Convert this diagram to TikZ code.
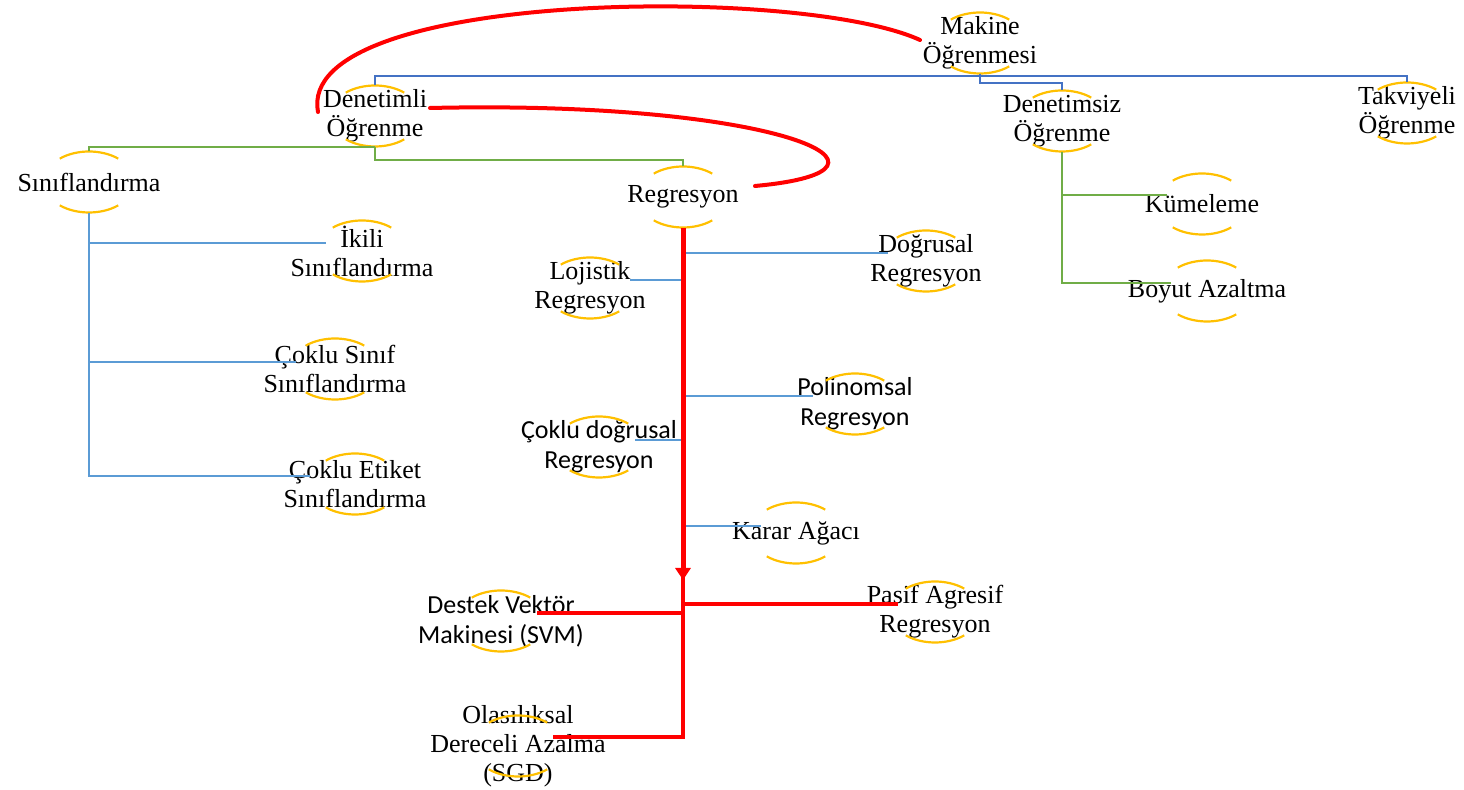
\documentclass[tikz,border=0pt]{standalone}
\usepackage{fontspec}
\setmainfont{Liberation Serif}
\newfontfamily\calfont{Carlito}
\usetikzlibrary{arrows.meta}
\definecolor{ovc}{HTML}{FFC000}
\definecolor{bdc}{HTML}{4472C4}
\definecolor{lbc}{HTML}{5B9BD5}
\definecolor{grc}{HTML}{70AD47}
\definecolor{rdc}{HTML}{FF0000}
\begin{document}
\begin{tikzpicture}[x=0.5pt,y=-0.5pt,
  nd/.style={inner sep=0pt, minimum width=45.5pt, minimum height=30.5pt, align=center, font=\fontsize{13pt}{14.5pt}\selectfont},
  ns/.style={nd, font=\calfont\fontsize{13pt}{15pt}\selectfont},
  ovarc/.style={draw=ovc, line width=1.1pt},
  bdl/.style={draw=bdc, line width=1.35pt},
  lbl/.style={draw=lbc, line width=1.35pt},
  grl/.style={draw=grc, line width=1.35pt},
  rthick/.style={draw=rdc, line width=2.5pt},
  rmid/.style={draw=rdc, line width=1.9pt},
  rcurve/.style={draw=rdc, line width=2pt, line cap=round}]
\fill[white] (0,0) rectangle (1464,790);
\useasboundingbox (0,0) rectangle (1464,790);

\node[nd] (mak) at (980,43) {Makine\\Öğrenmesi};
\node[nd] (den) at (375,116) {Denetimli\\Öğrenme};
\node[nd] (dsz) at (1062,121) {Denetimsiz\\Öğrenme};
\node[nd] (tak) at (1407,113) {Takviyeli\\Öğrenme};
\node[nd] (sin) at (89,182) {Sınıflandırma};
\node[nd] (reg) at (683,197) {Regresyon};
\node[nd] (kum) at (1202,204) {Kümeleme};
\node[nd] (boy) at (1207,291) {Boyut Azaltma};
\node[nd] (iki) at (362,251) {İkili\\Sınıflandırma};
\node[nd] (cks) at (335,369) {Çoklu Sınıf\\Sınıflandırma};
\node[nd] (cke) at (355,484) {Çoklu Etiket\\Sınıflandırma};
\node[nd] (dog) at (926,261) {Doğrusal\\Regresyon};
\node[nd] (loj) at (590,288) {Lojistik\\Regresyon};
\node[ns] (pol) at (855,404) {Polinomsal\\Regresyon};
\node[ns] (ckd) at (599,447) {Çoklu doğrusal\\Regresyon};
\node[nd] (kar) at (796,533) {Karar Ağacı};
\node[nd] (pas) at (935,612) {Pasif Agresif\\Regresyon};
\node[ns] (svm) at (501,621) {Destek Vektör\\Makinesi (SVM)};
\node[nd] (sgd) at (518,746) {Olasılıksal\\Dereceli Azalma\\(SGD)};

\foreach \n in {mak,den,dsz,tak,sin,reg,kum,boy,iki,cks,cke,dog,loj,pol,ckd,kar,pas,svm,sgd}{
  \draw[ovarc] ([shift={(130:22.75pt and 15.25pt)}]\n.center) arc[start angle=130,end angle=50,x radius=22.75pt,y radius=15.25pt];
  \draw[ovarc] ([shift={(230:22.75pt and 15.25pt)}]\n.center) arc[start angle=230,end angle=310,x radius=22.75pt,y radius=15.25pt];
}

% top level (dark blue)
\draw[bdl] (mak.south) -- ++(0,2) -| (den.north);
\draw[bdl] (mak.south) -- ++(0,2) -| (tak.north);
\draw[bdl] (mak.south) -- ++(0,9) -| (dsz.north);

% green
\draw[grl] (den.south) -| (sin.north);
\draw[grl] (den.south) -- ++(0,13) -| (reg.north);
\coordinate (kumL) at ([shift={(-35,-9)}]kum.center);
\coordinate (boyL) at ([shift={(-36,-8)}]boy.center);
\draw[grl] (dsz.south) |- (kumL);
\draw[grl] (dsz.south) |- (boyL);

% classification (light blue)
\coordinate (ikiL) at ([shift={(-36,-8)}]iki.center);
\coordinate (cksL) at ([shift={(-39,-7)}]cks.center);
\coordinate (ckeL) at ([shift={(-45,-8)}]cke.center);
\draw[lbl] (sin.south) |- (ikiL);
\draw[lbl] (sin.south) |- (cksL);
\draw[lbl] (sin.south) |- (ckeL);

% regression branches (light blue)
\coordinate (dogL) at ([shift={(-38,-8)}]dog.center);
\coordinate (lojR) at ([shift={(40,-8)}]loj.center);
\coordinate (polL) at ([shift={(-42,-8)}]pol.center);
\coordinate (ckdR) at ([shift={(36,-7)}]ckd.center);
\coordinate (karL) at ([shift={(-35,-7)}]kar.center);
\draw[lbl] (reg.south |- dogL) -- (dogL);
\draw[lbl] (reg.south |- lojR) -- (lojR);
\draw[lbl] (reg.south |- polL) -- (polL);
\draw[lbl] (reg.south |- ckdR) -- (ckdR);
\draw[lbl] (reg.south |- karL) -- (karL);

% red trunk
\coordinate (rtip) at (reg.south |- 0,580);
\coordinate (rbot) at (reg.south |- 0,737);
\coordinate (sgdR) at ([shift={(35,-9)}]sgd.center);
\coordinate (pasL) at ([shift={(-37,-8)}]pas.center);
\coordinate (svmR) at ([shift={(36,-8)}]svm.center);
\draw[rthick,-{Triangle[width=7.5pt,length=6pt]}] (reg.south) -- (rtip);
\draw[rmid] ([yshift=3pt]rtip) -- (rbot) -- (sgdR);
\draw[rmid] (reg.south |- pasL) -- (pasL);
\draw[rmid] (reg.south |- svmR) -- (svmR);

% red curves
\coordinate (makL) at ([shift={(-60,-3)}]mak.center);
\coordinate (denL) at ([shift={(-57,-4)}]den.center);
\coordinate (denR) at ([shift={(55,-8)}]den.center);
\coordinate (regR) at ([shift={(72,-11)}]reg.center);
\draw[rcurve] (makL) .. controls (800,-15) and (295,-10) .. (denL);
\draw[rcurve] (denR) .. controls (780,100) and (930,170) .. (regR);
\end{tikzpicture}
\end{document}
